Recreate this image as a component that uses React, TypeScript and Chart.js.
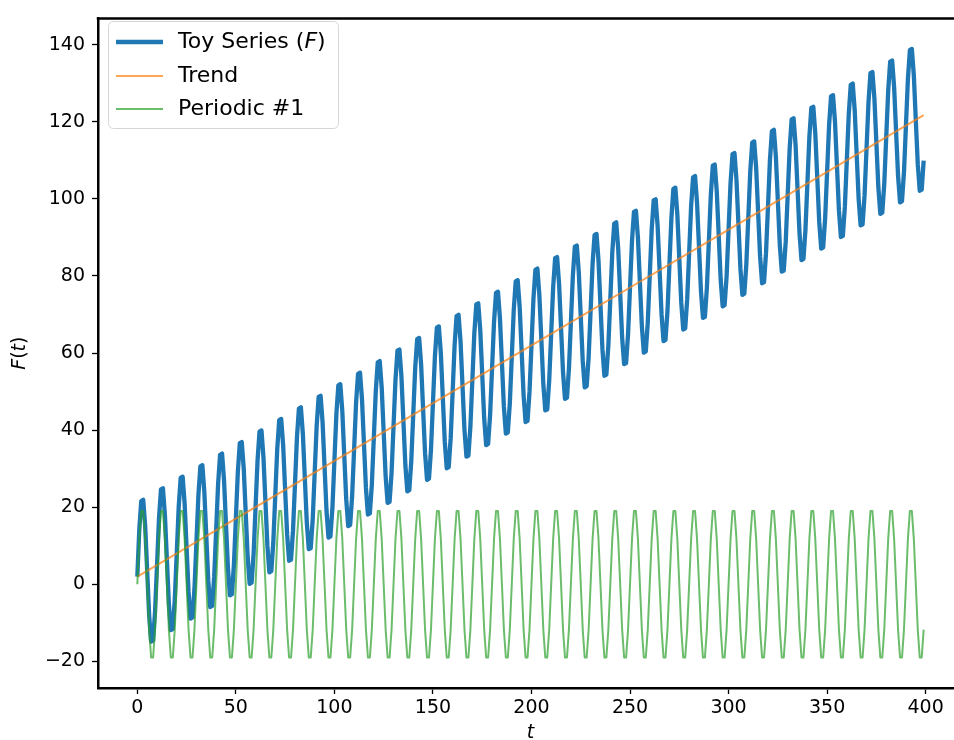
import React, { useEffect, useRef } from "react";
import { Chart, registerables } from "chart.js";

Chart.register(...registerables);

// ---- Data ----
const seriesLabels = ["Toy Series ($F$)", "Trend", "Periodic #1"];
const xTitle = "$t$";
const yTitle = "$F(t)$";

const xTicks = [0, 50, 100, 150, 200, 250, 300, 350, 400];
const yTicks = [-20, 0, 20, 40, 60, 80, 100, 120, 140];

// Toy series F sampled at t = 0, 1, 2, ..., 399 (ten samples per row)
const toySeries = [
  2, 14.1, 21.6, 21.9, 15, 3.5, -8, -14.9, -14.6, -7.1,
  5, 17.1, 24.6, 24.9, 18, 6.5, -5, -11.9, -11.6, -4.1,
  8, 20.1, 27.6, 27.9, 21, 9.5, -2, -8.9, -8.6, -1.1,
  11, 23.1, 30.6, 30.9, 24, 12.5, 1, -5.9, -5.6, 1.9,
  14, 26.1, 33.6, 33.9, 27, 15.5, 4, -2.9, -2.6, 4.9,
  17, 29.1, 36.6, 36.9, 30, 18.5, 7, 0.1, 0.4, 7.9,
  20, 32.1, 39.6, 39.9, 33, 21.5, 10, 3.1, 3.4, 10.9,
  23, 35.1, 42.6, 42.9, 36, 24.5, 13, 6.1, 6.4, 13.9,
  26, 38.1, 45.6, 45.9, 39, 27.5, 16, 9.1, 9.4, 16.9,
  29, 41.1, 48.6, 48.9, 42, 30.5, 19, 12.1, 12.4, 19.9,
  32, 44.1, 51.6, 51.9, 45, 33.5, 22, 15.1, 15.4, 22.9,
  35, 47.1, 54.6, 54.9, 48, 36.5, 25, 18.1, 18.4, 25.9,
  38, 50.1, 57.6, 57.9, 51, 39.5, 28, 21.1, 21.4, 28.9,
  41, 53.1, 60.6, 60.9, 54, 42.5, 31, 24.1, 24.4, 31.9,
  44, 56.1, 63.6, 63.9, 57, 45.5, 34, 27.1, 27.4, 34.9,
  47, 59.1, 66.6, 66.9, 60, 48.5, 37, 30.1, 30.4, 37.9,
  50, 62.1, 69.6, 69.9, 63, 51.5, 40, 33.1, 33.4, 40.9,
  53, 65.1, 72.6, 72.9, 66, 54.5, 43, 36.1, 36.4, 43.9,
  56, 68.1, 75.6, 75.9, 69, 57.5, 46, 39.1, 39.4, 46.9,
  59, 71.1, 78.6, 78.9, 72, 60.5, 49, 42.1, 42.4, 49.9,
  62, 74.1, 81.6, 81.9, 75, 63.5, 52, 45.1, 45.4, 52.9,
  65, 77.1, 84.6, 84.9, 78, 66.5, 55, 48.1, 48.4, 55.9,
  68, 80.1, 87.6, 87.9, 81, 69.5, 58, 51.1, 51.4, 58.9,
  71, 83.1, 90.6, 90.9, 84, 72.5, 61, 54.1, 54.4, 61.9,
  74, 86.1, 93.6, 93.9, 87, 75.5, 64, 57.1, 57.4, 64.9,
  77, 89.1, 96.6, 96.9, 90, 78.5, 67, 60.1, 60.4, 67.9,
  80, 92.1, 99.6, 99.9, 93, 81.5, 70, 63.1, 63.4, 70.9,
  83, 95.1, 102.6, 102.9, 96, 84.5, 73, 66.1, 66.4, 73.9,
  86, 98.1, 105.6, 105.9, 99, 87.5, 76, 69.1, 69.4, 76.9,
  89, 101.1, 108.6, 108.9, 102, 90.5, 79, 72.1, 72.4, 79.9,
  92, 104.1, 111.6, 111.9, 105, 93.5, 82, 75.1, 75.4, 82.9,
  95, 107.1, 114.6, 114.9, 108, 96.5, 85, 78.1, 78.4, 85.9,
  98, 110.1, 117.6, 117.9, 111, 99.5, 88, 81.1, 81.4, 88.9,
  101, 113.1, 120.6, 120.9, 114, 102.5, 91, 84.1, 84.4, 91.9,
  104, 116.1, 123.6, 123.9, 117, 105.5, 94, 87.1, 87.4, 94.9,
  107, 119.1, 126.6, 126.9, 120, 108.5, 97, 90.1, 90.4, 97.9,
  110, 122.1, 129.6, 129.9, 123, 111.5, 100, 93.1, 93.4, 100.9,
  113, 125.1, 132.6, 132.9, 126, 114.5, 103, 96.1, 96.4, 103.9,
  116, 128.1, 135.6, 135.9, 129, 117.5, 106, 99.1, 99.4, 106.9,
  119, 131.1, 138.6, 138.9, 132, 120.5, 109, 102.1, 102.4, 109.9,
];

// Trend component (straight line) at a few t values
const trendT = [0, 50, 100, 150, 200, 250, 300, 350, 399];
const trendValues = [2, 17, 32, 47, 62, 77, 92, 107, 121.7];

// Periodic #1 sampled at t = 0, 1, 2, ..., 399 (ten samples per row)
const periodic1 = [
  0, 11.76, 19.02, 19.02, 11.76, 0, -11.76, -19.02, -19.02, -11.76,
  0, 11.76, 19.02, 19.02, 11.76, 0, -11.76, -19.02, -19.02, -11.76,
  0, 11.76, 19.02, 19.02, 11.76, 0, -11.76, -19.02, -19.02, -11.76,
  0, 11.76, 19.02, 19.02, 11.76, 0, -11.76, -19.02, -19.02, -11.76,
  0, 11.76, 19.02, 19.02, 11.76, 0, -11.76, -19.02, -19.02, -11.76,
  0, 11.76, 19.02, 19.02, 11.76, 0, -11.76, -19.02, -19.02, -11.76,
  0, 11.76, 19.02, 19.02, 11.76, 0, -11.76, -19.02, -19.02, -11.76,
  0, 11.76, 19.02, 19.02, 11.76, 0, -11.76, -19.02, -19.02, -11.76,
  0, 11.76, 19.02, 19.02, 11.76, 0, -11.76, -19.02, -19.02, -11.76,
  0, 11.76, 19.02, 19.02, 11.76, 0, -11.76, -19.02, -19.02, -11.76,
  0, 11.76, 19.02, 19.02, 11.76, 0, -11.76, -19.02, -19.02, -11.76,
  0, 11.76, 19.02, 19.02, 11.76, 0, -11.76, -19.02, -19.02, -11.76,
  0, 11.76, 19.02, 19.02, 11.76, 0, -11.76, -19.02, -19.02, -11.76,
  0, 11.76, 19.02, 19.02, 11.76, 0, -11.76, -19.02, -19.02, -11.76,
  0, 11.76, 19.02, 19.02, 11.76, 0, -11.76, -19.02, -19.02, -11.76,
  0, 11.76, 19.02, 19.02, 11.76, 0, -11.76, -19.02, -19.02, -11.76,
  0, 11.76, 19.02, 19.02, 11.76, 0, -11.76, -19.02, -19.02, -11.76,
  0, 11.76, 19.02, 19.02, 11.76, 0, -11.76, -19.02, -19.02, -11.76,
  0, 11.76, 19.02, 19.02, 11.76, 0, -11.76, -19.02, -19.02, -11.76,
  0, 11.76, 19.02, 19.02, 11.76, 0, -11.76, -19.02, -19.02, -11.76,
  0, 11.76, 19.02, 19.02, 11.76, 0, -11.76, -19.02, -19.02, -11.76,
  0, 11.76, 19.02, 19.02, 11.76, 0, -11.76, -19.02, -19.02, -11.76,
  0, 11.76, 19.02, 19.02, 11.76, 0, -11.76, -19.02, -19.02, -11.76,
  0, 11.76, 19.02, 19.02, 11.76, 0, -11.76, -19.02, -19.02, -11.76,
  0, 11.76, 19.02, 19.02, 11.76, 0, -11.76, -19.02, -19.02, -11.76,
  0, 11.76, 19.02, 19.02, 11.76, 0, -11.76, -19.02, -19.02, -11.76,
  0, 11.76, 19.02, 19.02, 11.76, 0, -11.76, -19.02, -19.02, -11.76,
  0, 11.76, 19.02, 19.02, 11.76, 0, -11.76, -19.02, -19.02, -11.76,
  0, 11.76, 19.02, 19.02, 11.76, 0, -11.76, -19.02, -19.02, -11.76,
  0, 11.76, 19.02, 19.02, 11.76, 0, -11.76, -19.02, -19.02, -11.76,
  0, 11.76, 19.02, 19.02, 11.76, 0, -11.76, -19.02, -19.02, -11.76,
  0, 11.76, 19.02, 19.02, 11.76, 0, -11.76, -19.02, -19.02, -11.76,
  0, 11.76, 19.02, 19.02, 11.76, 0, -11.76, -19.02, -19.02, -11.76,
  0, 11.76, 19.02, 19.02, 11.76, 0, -11.76, -19.02, -19.02, -11.76,
  0, 11.76, 19.02, 19.02, 11.76, 0, -11.76, -19.02, -19.02, -11.76,
  0, 11.76, 19.02, 19.02, 11.76, 0, -11.76, -19.02, -19.02, -11.76,
  0, 11.76, 19.02, 19.02, 11.76, 0, -11.76, -19.02, -19.02, -11.76,
  0, 11.76, 19.02, 19.02, 11.76, 0, -11.76, -19.02, -19.02, -11.76,
  0, 11.76, 19.02, 19.02, 11.76, 0, -11.76, -19.02, -19.02, -11.76,
  0, 11.76, 19.02, 19.02, 11.76, 0, -11.76, -19.02, -19.02, -11.76,
];

// ---- Styling ----
const FONT = "DejaVu Sans";
const FONT_SIZE = 19;
const LEGEND_FONT_SIZE = 22;
const COLORS = ["#1f77b4", "rgba(255,127,14,0.7)", "rgba(44,160,44,0.7)"];
const WIDTHS = [4.3, 2, 2];

const CANVAS_W = 990;
const CANVAS_H = 740;

type Seg = { t: string; italic: boolean; w?: number };

function segments(text: string): Seg[] {
  const out: Seg[] = [];
  text.split("$").forEach((p, i) => {
    if (!p) return;
    if (i % 2 === 0) out.push({ t: p, italic: false });
    else for (const ch of p) out.push({ t: ch, italic: /[A-Za-z]/.test(ch) });
  });
  return out;
}

function drawRich(
  ctx: CanvasRenderingContext2D,
  text: string,
  x: number,
  y: number,
  align: "left" | "center",
  size: number
) {
  const segs = segments(text);
  const fontOf = (it: boolean) => `${it ? "italic " : ""}${size}px '${FONT}'`;
  let total = 0;
  segs.forEach((s) => {
    ctx.font = fontOf(s.italic);
    s.w = ctx.measureText(s.t).width;
    total += s.w;
  });
  let cx = align === "center" ? x - total / 2 : x;
  ctx.textAlign = "left";
  ctx.textBaseline = "middle";
  ctx.fillStyle = "#000";
  segs.forEach((s) => {
    ctx.font = fontOf(s.italic);
    ctx.fillText(s.t, cx, y);
    cx += s.w || 0;
  });
}

const decorPlugin = {
  id: "mplDecor",
  afterDraw(chart: any) {
    const ctx: CanvasRenderingContext2D = chart.ctx;
    const a = chart.chartArea;
    ctx.save();
    // top spine
    ctx.strokeStyle = "#000";
    ctx.lineWidth = 2.5;
    ctx.beginPath();
    ctx.moveTo(a.left - 1.25, a.top);
    ctx.lineTo(chart.width, a.top);
    ctx.stroke();

    // axis titles
    drawRich(ctx, xTitle, (a.left + a.right) / 2, 733, "center", FONT_SIZE);
    ctx.save();
    ctx.translate(20, (a.top + a.bottom) / 2);
    ctx.rotate(-Math.PI / 2);
    drawRich(ctx, yTitle, 0, 0, "center", FONT_SIZE);
    ctx.restore();

    // legend
    const bx = 108.5, by = 21.5, bw = 230, bh = 107, r = 5;
    ctx.beginPath();
    ctx.moveTo(bx + r, by);
    ctx.lineTo(bx + bw - r, by);
    ctx.arcTo(bx + bw, by, bx + bw, by + r, r);
    ctx.lineTo(bx + bw, by + bh - r);
    ctx.arcTo(bx + bw, by + bh, bx + bw - r, by + bh, r);
    ctx.lineTo(bx + r, by + bh);
    ctx.arcTo(bx, by + bh, bx, by + bh - r, r);
    ctx.lineTo(bx, by + r);
    ctx.arcTo(bx, by, bx + r, by, r);
    ctx.closePath();
    ctx.fillStyle = "rgba(255,255,255,0.8)";
    ctx.fill();
    ctx.strokeStyle = "#d6d6d6";
    ctx.lineWidth = 1;
    ctx.stroke();

    const rows = [42, 76, 109];
    chart.data.datasets.forEach((ds: any, i: number) => {
      const y = rows[i];
      ctx.strokeStyle = ds.borderColor;
      ctx.lineWidth = ds.borderWidth;
      ctx.lineCap = "butt";
      ctx.beginPath();
      ctx.moveTo(116, y);
      ctx.lineTo(163, y);
      ctx.stroke();
      drawRich(ctx, ds.label, 178, y, "left", LEGEND_FONT_SIZE);
    });
    ctx.restore();
  },
};

const minus = (v: number) => String(v).replace("-", "\u2212");

export default function App() {
  const canvasRef = useRef<HTMLCanvasElement | null>(null);

  useEffect(() => {
    const canvas = canvasRef.current;
    if (!canvas) return;
    const chart = new Chart(canvas, {
      type: "line",
      data: {
        datasets: [
          {
            label: seriesLabels[0],
            data: toySeries.map((v, i) => ({ x: i, y: v })),
            borderColor: COLORS[0],
            borderWidth: WIDTHS[0],
            pointRadius: 0,
            tension: 0,
            borderJoinStyle: "round",
            order: 2,
          },
          {
            label: seriesLabels[1],
            data: trendT.map((t, i) => ({ x: t, y: trendValues[i] })),
            borderColor: COLORS[1],
            borderWidth: WIDTHS[1],
            pointRadius: 0,
            tension: 0,
            order: 1,
          },
          {
            label: seriesLabels[2],
            data: periodic1.map((v, i) => ({ x: i, y: v })),
            borderColor: COLORS[2],
            borderWidth: WIDTHS[2],
            pointRadius: 0,
            tension: 0,
            borderJoinStyle: "round",
            order: 0,
          },
        ],
      },
      options: {
        responsive: false,
        animation: false,
        devicePixelRatio: 1,
        layout: { padding: { left: 0, top: 12, right: CANVAS_W - 963, bottom: 0 } },
        plugins: {
          legend: { display: false },
          tooltip: { enabled: false },
          title: { display: false },
        },
        scales: {
          x: {
            type: "linear",
            min: -19.95,
            max: 418.95,
            afterFit: (s: any) => {
              s.height = 52;
            },
            afterBuildTicks: (s: any) => {
              s.ticks = xTicks.map((v) => ({ value: v }));
            },
            ticks: {
              color: "#000",
              font: { family: FONT, size: FONT_SIZE },
              padding: 3,
              maxRotation: 0,
              autoSkip: false,
              callback: (v: any) => minus(v),
            },
            grid: {
              display: true,
              drawOnChartArea: false,
              drawTicks: true,
              tickLength: 6,
              tickWidth: 1.3,
              tickColor: "#000",
            },
            border: { display: true, color: "#000", width: 2.5 },
          },
          y: {
            type: "linear",
            min: -26.92,
            max: 146.82,
            afterFit: (s: any) => {
              s.width = 98;
            },
            afterBuildTicks: (s: any) => {
              s.ticks = yTicks.map((v) => ({ value: v }));
            },
            ticks: {
              color: "#000",
              font: { family: FONT, size: FONT_SIZE },
              padding: 7,
              autoSkip: false,
              callback: (v: any) => minus(v),
            },
            grid: {
              display: true,
              drawOnChartArea: false,
              drawTicks: true,
              tickLength: 6,
              tickWidth: 1.3,
              tickColor: "#000",
            },
            border: { display: true, color: "#000", width: 2.5 },
          },
        },
      },
      plugins: [decorPlugin],
    } as any);
    return () => chart.destroy();
  }, []);

  return (
    <div
      style={{
        position: "absolute",
        left: 0,
        top: 0,
        width: 954,
        height: 740,
        overflow: "hidden",
        background: "#fff",
      }}
    >
      <canvas
        ref={canvasRef}
        width={CANVAS_W}
        height={CANVAS_H}
        style={{ width: CANVAS_W, height: CANVAS_H, display: "block" }}
      />
    </div>
  );
}
